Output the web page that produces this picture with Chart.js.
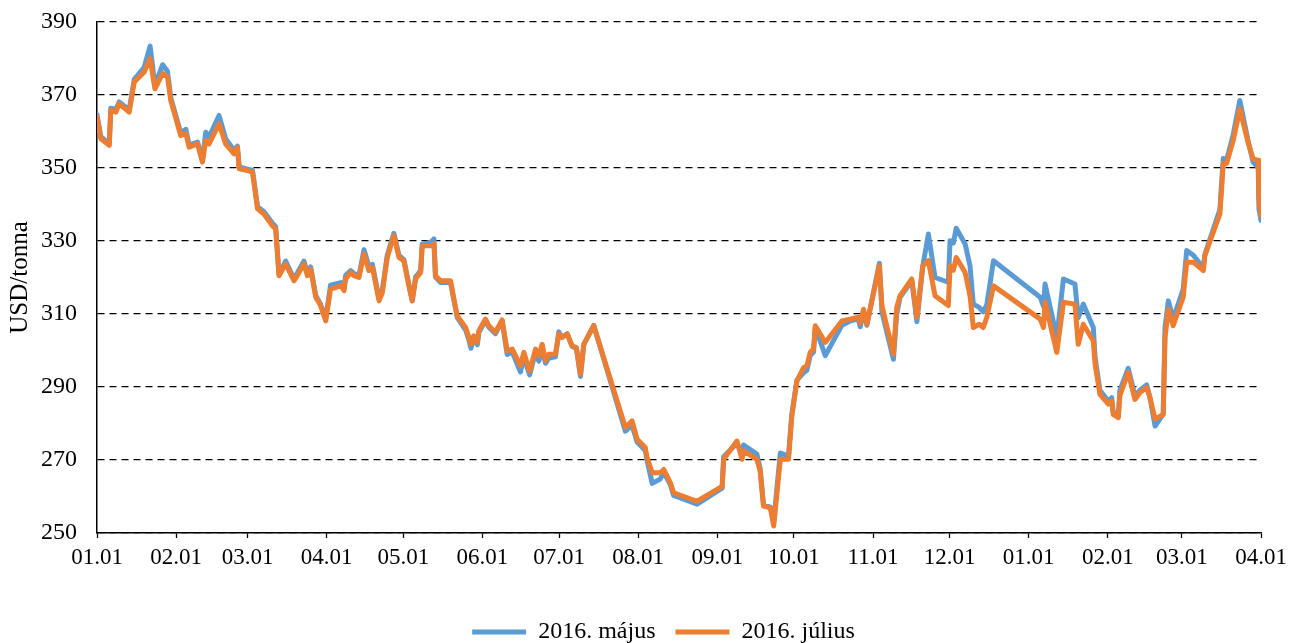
<!DOCTYPE html>
<html>
<head>
<meta charset="utf-8">
<script src="https://cdn.jsdelivr.net/npm/chart.js@4"></script>
<style>
  html, body { margin: 0; padding: 0; background: #fff; }
  #wrap { width: 1293px; height: 643px; }
</style>
</head>
<body>
<div id="wrap"><canvas id="c" width="1293" height="643"></canvas></div>
<script>
// napok 2015.01.01-tol szamolva
const days = [
  0, 1.5, 4.8, 5.4, 7.4, 8.7, 12.6, 14.6, 18.5, 20.8, 22.7, 25.7, 27.6, 28.9, 32.8, 34.8, 36.1, 39.4, 41.3, 42.6,
  43.9, 47.8, 50.4, 53.7, 55.0, 55.7, 58.9, 60.9, 62.9, 65.4, 68.7, 70.0, 71.3, 73.9, 77.2, 81.1, 82.4, 83.7, 85.7, 87.6,
  89.6, 91.5, 95.5, 96.8, 97.4, 99.4, 100.7, 102.6, 104.6, 106.5, 107.9, 110.5, 111.8, 113.7, 116.3, 118.3, 120.2, 122.2, 123.5, 124.8,
  126.8, 127.4, 130.7, 132.0, 132.6, 134.6, 138.5, 139.8, 141.1, 144.4, 145.7, 146.5, 147.6, 149.0, 149.6, 152.2, 153.5, 156.1, 158.7, 160.7,
  162.7, 165.9, 167.2, 169.5, 171.8, 173.1, 174.4, 175.7, 177.0, 179.6, 180.9, 182.2, 184.2, 186.1, 187.8, 189.4, 190.7, 194.6, 207.0, 209.6,
  211.6, 214.8, 215.5, 217.5, 220.7, 222.0, 224.6, 225.9, 235.1, 244.9, 245.5, 250.7, 252.7, 253.3, 258.5, 259.8, 261.1, 263.8, 265.1, 267.7,
  270.9, 272.2, 274.2, 276.8, 278.1, 279.4, 280.7, 281.4, 285.3, 291.8, 295.1, 298.3, 299.0, 300.3, 301.6, 306.5, 307.5, 312.0, 313.3, 314.6,
  319.2, 321.2, 323.5, 325.7, 328.3, 333.5, 334.2, 335.5, 336.6, 340.1, 342.0, 343.3, 345.6, 347.2, 348.6, 351.2, 369.5, 370.8, 371.4, 376.0,
  378.6, 383.1, 384.4, 386.4, 390.3, 391.0, 392.9, 396.2, 397.5, 398.1, 400.1, 400.7, 404.0, 406.6, 408.6, 411.2, 412.5, 414.5, 417.7, 418.4,
  419.7, 421.6, 425.5, 426.9, 429.5, 433.4, 434.0, 439.9, 441.2, 442.5, 445.1, 447.7, 450.9, 452.9, 454.9, 455.2, 456.0
];

// 2016. május
const mayValues = [
  364.6, 358.6, 356.6, 366.4, 366.0, 368.1, 365.9, 374.3, 377.6, 383.4, 372.6, 378.3, 376.5, 369.3, 359.6, 360.6, 356.3, 357.1, 352.1, 359.8,
  358.5, 364.4, 358.0, 354.8, 356.0, 350.3, 349.7, 349.4, 339.4, 338.0, 334.9, 333.9, 320.8, 324.5, 319.6, 324.5, 321.1, 322.9, 315.1, 312.6,
  308.8, 317.9, 318.6, 317.1, 320.6, 321.9, 321.1, 320.4, 327.6, 323.1, 323.6, 314.1, 316.6, 326.1, 332.1, 326.1, 324.9, 318.1, 313.6, 320.1,
  321.9, 329.1, 329.6, 330.6, 320.1, 318.6, 318.6, 313.9, 309.1, 305.6, 302.9, 300.6, 303.6, 301.6, 304.9, 308.3, 306.4, 304.6, 308.1, 298.9,
  299.6, 294.1, 298.3, 293.3, 299.6, 297.1, 300.9, 296.5, 297.9, 298.3, 305.1, 303.6, 304.6, 301.1, 300.6, 292.9, 301.6, 306.9, 277.9, 279.6,
  274.9, 272.6, 269.9, 263.6, 264.8, 266.6, 263.3, 260.3, 257.9, 262.3, 270.9, 274.6, 271.6, 274.1, 271.6, 267.6, 257.7, 257.1, 253.1, 271.9,
  271.1, 282.6, 291.9, 293.9, 294.6, 298.6, 299.6, 306.4, 298.6, 306.9, 308.1, 308.6, 306.5, 310.9, 306.9, 323.9, 310.6, 297.6, 310.1, 314.6,
  319.1, 307.9, 323.1, 331.9, 320.0, 318.7, 330.1, 329.5, 333.5, 329.2, 323.2, 312.7, 311.8, 310.6, 312.6, 324.6, 314.6, 312.1, 318.2, 303.6,
  319.6, 318.2, 309.0, 312.7, 306.3, 298.1, 289.1, 286.1, 287.1, 283.1, 282.1, 289.1, 295.1, 287.6, 289.1, 290.6, 287.1, 279.3, 282.6, 306.3,
  313.6, 308.6, 316.8, 327.4, 326.1, 322.6, 326.3, 338.6, 352.6, 352.1, 359.1, 368.5, 357.6, 351.6, 350.1, 338.8, 335.6
];

// 2016. július
const julyValues = [
  364.0, 358.0, 356.2, 365.8, 365.3, 367.6, 365.3, 373.6, 376.3, 380.0, 371.7, 375.9, 375.0, 368.5, 358.9, 359.4, 355.7, 356.6, 351.6, 357.5,
  356.6, 362.1, 356.6, 353.9, 355.7, 349.8, 349.3, 348.9, 338.8, 337.4, 334.2, 333.3, 320.5, 323.7, 319.1, 323.7, 320.5, 322.3, 314.6, 312.3,
  308.1, 316.8, 317.7, 316.4, 319.6, 321.4, 320.5, 320.0, 326.4, 321.9, 322.8, 313.6, 315.9, 325.5, 331.5, 325.5, 324.6, 317.7, 313.6, 319.6,
  321.4, 328.7, 328.7, 329.2, 320.5, 319.1, 319.1, 314.1, 309.5, 306.3, 303.6, 301.7, 304.0, 302.2, 305.4, 308.6, 306.8, 305.0, 308.4, 299.9,
  300.4, 295.8, 299.5, 294.4, 300.4, 298.5, 301.7, 297.2, 299.0, 299.0, 304.5, 303.6, 304.5, 301.3, 300.8, 293.5, 301.7, 306.8, 278.9, 280.7,
  275.7, 273.4, 270.6, 266.5, 266.5, 267.4, 263.8, 261.0, 258.7, 262.8, 270.2, 275.2, 270.2, 272.5, 270.2, 267.0, 257.4, 256.9, 251.9, 270.2,
  270.2, 282.1, 291.7, 295.3, 295.8, 299.5, 300.4, 306.8, 302.2, 308.1, 308.6, 309.1, 307.5, 311.3, 307.2, 323.2, 312.3, 299.0, 311.8, 315.0,
  319.6, 309.1, 323.2, 324.6, 315.0, 312.3, 323.2, 322.0, 325.5, 321.4, 315.0, 306.3, 307.2, 306.3, 309.1, 317.7, 308.6, 306.3, 313.2, 299.5,
  313.2, 312.7, 301.7, 307.2, 302.6, 296.3, 288.0, 285.3, 286.2, 282.5, 281.6, 287.6, 294.0, 286.6, 288.5, 289.9, 287.1, 281.2, 282.5, 303.6,
  311.3, 306.8, 314.6, 324.2, 324.2, 321.9, 326.0, 337.4, 351.2, 351.2, 357.5, 366.2, 357.1, 352.5, 352.1, 341.1, 337.0
];

// honap elejek (nap) es feliratok
const monthDays = [0, 31, 59, 90, 120, 151, 181, 212, 243, 273, 304, 334, 365, 396, 425, 456];
const monthLabels = ['01.01', '02.01', '03.01', '04.01', '05.01', '06.01', '07.01', '08.01',
  '09.01', '10.01', '11.01', '12.01', '01.01', '02.01', '03.01', '04.01'];
const yTicks = [250, 270, 290, 310, 330, 350, 370, 390];

const serif = 'Liberation Serif';

function toPoints(values) {
  return days.map((d, i) => ({ x: d, y: values[i] }));
}

// legend athelyezese (lejjebb, jobbra)
const legendShift = {
  id: 'legendShift',
  afterLayout(chart) {
    chart.legend.top += 11;
    chart.legend.bottom += 11;
    chart.legend.left += 33;
    chart.legend.right += 33;
  }
};

new Chart(document.getElementById('c'), {
  type: 'line',
  data: {
    datasets: [
      {
        label: '2016. május',
        data: toPoints(mayValues),
        borderColor: '#5B9BD5',
        backgroundColor: '#5B9BD5',
        borderWidth: 5,
        pointRadius: 0,
        pointStyle: 'line',
        borderJoinStyle: 'round',
        borderCapStyle: 'round',
        tension: 0,
        order: 1
      },
      {
        label: '2016. július',
        data: toPoints(julyValues),
        borderColor: '#ED7D31',
        backgroundColor: '#ED7D31',
        borderWidth: 5,
        pointRadius: 0,
        pointStyle: 'line',
        borderJoinStyle: 'round',
        borderCapStyle: 'round',
        tension: 0,
        order: 0
      }
    ]
  },
  options: {
    responsive: false,
    animation: false,
    events: [],
    layout: { padding: { left: 0, right: 32, top: 22, bottom: 0 } },
    plugins: {
      legend: {
        position: 'bottom',
        labels: {
          usePointStyle: true,
          pointStyle: 'line',
          pointStyleWidth: 54,
          padding: 20,
          color: '#000',
          font: { family: serif, size: 24 },
          sort: (a, b) => a.datasetIndex - b.datasetIndex
        }
      },
      tooltip: { enabled: false }
    },
    scales: {
      x: {
        type: 'linear',
        min: monthDays[0],
        max: monthDays[monthDays.length - 1],
        afterBuildTicks: (scale) => {
          scale.ticks = monthDays.map(v => ({ value: v }));
        },
        afterFit: (scale) => { scale.height = 56; },
        ticks: {
          autoSkip: false,
          maxRotation: 0,
          padding: 6,
          color: '#000',
          font: { family: serif, size: 23 },
          callback: (value, index) => monthLabels[index]
        },
        grid: {
          drawOnChartArea: false,
          drawTicks: true,
          tickLength: 5,
          color: '#000',
          tickWidth: 1.3
        },
        border: { color: '#000', width: 1.5 }
      },
      y: {
        min: yTicks[0],
        max: yTicks[yTicks.length - 1],
        afterBuildTicks: (scale) => {
          scale.ticks = yTicks.map(v => ({ value: v }));
        },
        afterFit: (scale) => {
          scale.width = 97;
          scale.paddingTop = 12;
          scale.paddingBottom = 12;
        },
        ticks: {
          padding: 20,
          color: '#000',
          font: { family: serif, size: 24 }
        },
        grid: {
          drawTicks: false,
          color: '#000',
          lineWidth: 1.3
        },
        border: { color: '#000', width: 1.5, dash: [7, 5] },
        title: {
          display: true,
          text: 'USD/tonna',
          color: '#000',
          padding: { top: 5, bottom: 0 },
          font: { family: serif, size: 25 }
        }
      }
    }
  },
  plugins: [legendShift]
});
</script>
</body>
</html>
